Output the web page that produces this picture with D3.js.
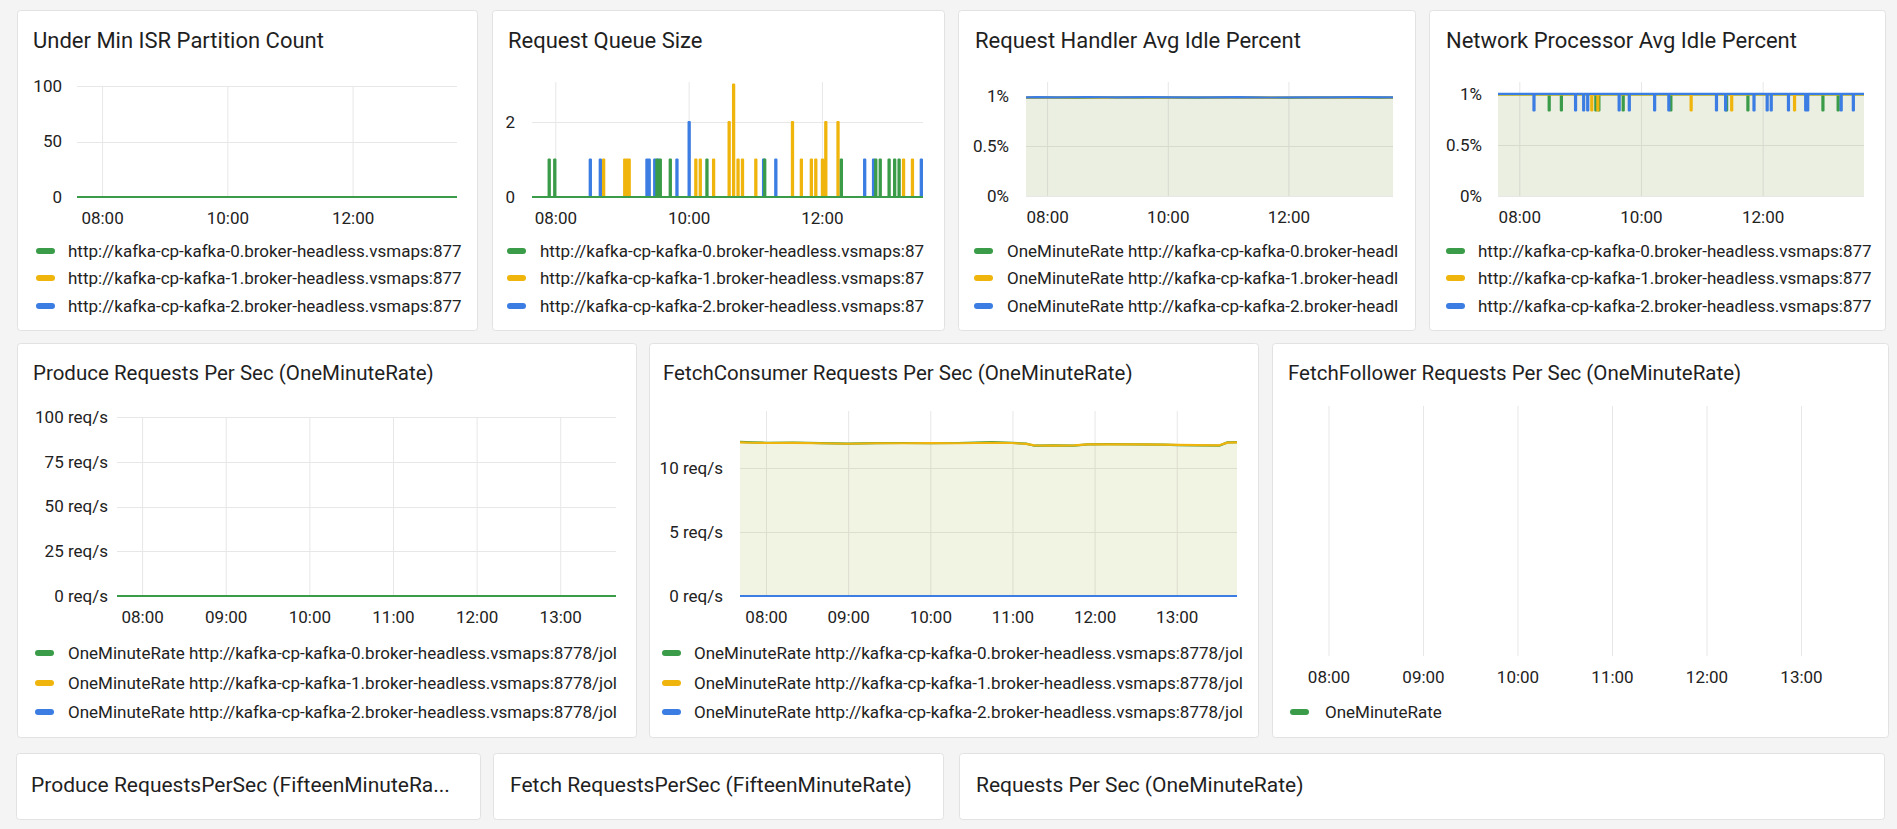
<!DOCTYPE html>
<html>
<head>
<meta charset="utf-8">
<script src="https://cdn.jsdelivr.net/npm/d3@7"></script>
<style>
  body { margin: 0; background: #f4f4f4; overflow: hidden; }
  svg { display: block; font-family: Roboto, "Noto Sans", sans-serif; }
</style>
</head>
<body>
<svg id="dash" width="1897" height="829"></svg>
<script>
// ---- legend labels ----
const brokerUrls = [
  "http://kafka-cp-kafka-0.broker-headless.vsmaps:8778/jolokia",
  "http://kafka-cp-kafka-1.broker-headless.vsmaps:8778/jolokia",
  "http://kafka-cp-kafka-2.broker-headless.vsmaps:8778/jolokia"
];
const rateUrls = brokerUrls.map(u => "OneMinuteRate " + u);
const followerLegend = ["OneMinuteRate"];

// ---- Under Min ISR Partition Count (flat zero) ----
const underMinIsr0 = [["07:36", 0], ["13:40", 0]];
const underMinIsr1 = [["07:36", 0], ["13:40", 0]];
const underMinIsr2 = [["07:36", 0], ["13:40", 0]];

// ---- Request Queue Size: zero except these samples ----
const queueSpikes0 = [["07:54",1],["07:59",1],["09:31",1],["09:34",1],["09:43",1],["10:16",1],["11:08",1],
  ["12:17",1],["12:48",1],["12:52",1],["13:00",1],["13:05",1],["13:09",1]];
const queueSpikes1 = [["08:43",1],["09:02",1],["09:04",1],["09:06",1],["10:06",1],["10:10",1],["10:22",1],
  ["10:36",2],["10:40",3],["10:44",1],["10:48",1],["11:00",1],["11:33",2],["11:41",1],["11:50",1],
  ["11:54",1],["12:00",1],["12:03",2],["12:14",2],["13:13",1],["13:21",1]];
const queueSpikes2 = [["08:31",1],["08:40",1],["09:22",1],["09:24",1],["09:29",1],["09:32",1],["09:49",1],
  ["10:00",2],["11:07",1],["11:18",1],["12:38",1],["12:46",1],["13:29",1]];

// ---- Request Handler Avg Idle Percent ----
const handlerIdle0 = [["07:39",0.982],["08:00",0.984],["08:30",0.982],["09:00",0.985],["09:30",0.983],["10:00",0.984],
  ["10:30",0.982],["11:00",0.985],["11:30",0.983],["12:00",0.982],["12:30",0.984],["13:00",0.983],["13:30",0.982],["13:44",0.984]];
const handlerIdle1 = [["07:39",0.984],["08:00",0.983],["08:30",0.985],["09:00",0.983],["09:30",0.985],["10:00",0.983],
  ["10:30",0.985],["11:00",0.983],["11:30",0.984],["12:00",0.985],["12:30",0.983],["13:00",0.984],["13:30",0.985],["13:44",0.983]];
const handlerIdle2 = [["07:39",0.986],["07:50",0.988],["08:10",0.986],["08:40",0.99],["09:10",0.986],["09:40",0.988],
  ["10:10",0.987],["10:40",0.986],["11:10",0.989],["11:40",0.985],["12:10",0.987],["12:40",0.986],["13:10",0.988],["13:44",0.987]];

// ---- Network Processor Avg Idle Percent: level + short dips ----
const netIdleBase = [0.998, 0.999, 1.003];
const netIdleDips0 = [["08:29",0.84],["08:41",0.84],["09:15",0.84],["09:18",0.84],["09:42",0.84],["10:29",0.84],
  ["11:24",0.84],["11:45",0.84],["12:59",0.84],["13:14",0.84]];
const netIdleDips1 = [["09:11",0.84],["09:17",0.84],["10:49",0.84],["11:29",0.84],["12:31",0.84]];
const netIdleDips2 = [["08:14",0.84],["08:55",0.84],["09:03",0.84],["09:07",0.84],["09:38",0.84],["09:48",0.84],
  ["10:13",0.84],["10:27",0.84],["11:14",0.84],["11:23",0.84],["11:51",0.84],["12:04",0.84],["12:08",0.84],
  ["12:25",0.84],["12:42",0.84],["12:44",0.84],["13:17",0.84],["13:29",0.84]];

// ---- Produce Requests Per Sec (flat zero) ----
const produceRate0 = [["07:42", 0], ["13:40", 0]];
const produceRate1 = [["07:42", 0], ["13:40", 0]];
const produceRate2 = [["07:42", 0], ["13:40", 0]];

// ---- FetchConsumer Requests Per Sec ----
const fetchConsumer0 = [["07:41",12.04],["07:50",12.0],["08:00",11.97],["08:20",11.99],["08:40",11.94],["09:00",11.9],
  ["09:20",11.94],["09:40",11.95],["10:00",11.93],["10:20",11.95],["10:45",12.03],["11:00",11.96],["11:10",11.9],
  ["11:16",11.74],["11:30",11.76],["11:45",11.74],["11:55",11.85],["12:10",11.86],["12:30",11.84],["12:50",11.83],
  ["13:01",11.78],["13:15",11.76],["13:31",11.74],["13:37",12.0],["13:44",12.02]];
const fetchConsumer1 = [["07:41",12.0],["07:50",11.97],["08:00",11.95],["08:20",11.96],["08:40",11.93],["09:00",11.89],
  ["09:20",11.93],["09:40",11.93],["10:00",11.94],["10:20",11.93],["10:45",11.97],["11:00",11.95],["11:10",11.88],
  ["11:16",11.76],["11:30",11.75],["11:45",11.77],["11:55",11.84],["12:10",11.84],["12:30",11.85],["12:50",11.82],
  ["13:01",11.8],["13:15",11.78],["13:31",11.77],["13:37",11.98],["13:44",12.0]];
const fetchConsumer2 = [["07:41", 0], ["13:44", 0]];

const seriesColors = ["#3a9b48", "#efb50c", "#3b7de2"];

const parseT = d3.timeParse("%H:%M");
const fmtT = d3.timeFormat("%H:%M");

function pairs(arr) {
  return arr.map(([t, v]) => ({ t: parseT(t), v }));
}

// level series with one-minute excursions (drawn as steps)
function eventSeries(base, events, from, to) {
  const pts = [{ t: parseT(from), v: base }];
  events.forEach(([tm, v]) => {
    const t = parseT(tm);
    pts.push({ t, v }, { t: d3.timeMinute.offset(t, 1), v: base });
  });
  pts.push({ t: parseT(to), v: base });
  return pts;
}

const panels = [
  { title: "Under Min ISR Partition Count", box: [17, 10, 460, 320], titleX: 16, titleY: 38, titleSize: 22,
    plot: [77, 86, 457, 197], domain: ["07:36", "13:40"], xEvery: 2, yMax: 100, yTicks: [0, 50, 100],
    yFmt: d => d, yPad: 15,
    series: [pairs(underMinIsr0), pairs(underMinIsr1), pairs(underMinIsr2)], order: [2, 1, 0],
    legend: brokerUrls, legX: [19, 51], legY: [241, 268, 296] },
  { title: "Request Queue Size", box: [492, 10, 452, 320], titleX: 16, titleY: 38, titleSize: 22,
    plot: [532, 82, 923, 197], domain: ["07:39", "13:31"], xEvery: 2, yMax: 3.07, yTicks: [0, 2],
    yFmt: d => d, yPad: 17, step: true,
    series: [eventSeries(0, queueSpikes0, "07:39", "13:31"), eventSeries(0, queueSpikes1, "07:39", "13:31"),
             eventSeries(0, queueSpikes2, "07:39", "13:31")], order: [2, 1, 0],
    legend: brokerUrls, legX: [15, 48], legY: [241, 268, 296] },
  { title: "Request Handler Avg Idle Percent", box: [958, 10, 457, 320], titleX: 17, titleY: 38, titleSize: 22,
    plot: [1026, 82, 1393, 196], domain: ["07:39", "13:44"], xEvery: 2, yMax: 1.14, yTicks: [0, 0.5, 1],
    yFmt: d => d + "%", yPad: 17, fill: true,
    series: [pairs(handlerIdle0), pairs(handlerIdle1), pairs(handlerIdle2)], order: [0, 1, 2],
    legend: rateUrls, legX: [16, 49], legY: [241, 268, 296] },
  { title: "Network Processor Avg Idle Percent", box: [1429, 10, 456, 320], titleX: 17, titleY: 38, titleSize: 22,
    plot: [1498, 82, 1864, 196], domain: ["07:39", "13:40"], xEvery: 2, yMax: 1.12, yTicks: [0, 0.5, 1],
    yFmt: d => d + "%", yPad: 16, fill: true, step: true,
    series: [eventSeries(netIdleBase[0], netIdleDips0, "07:39", "13:40"),
             eventSeries(netIdleBase[1], netIdleDips1, "07:39", "13:40"),
             eventSeries(netIdleBase[2], netIdleDips2, "07:39", "13:40")], order: [0, 1, 2],
    legend: brokerUrls, legX: [17, 49], legY: [241, 268, 296] },
  { title: "Produce Requests Per Sec (OneMinuteRate)", box: [17, 343, 619, 394], titleX: 16, titleY: 37, titleSize: 20.5,
    plot: [117, 417, 616, 596], domain: ["07:42", "13:40"], xEvery: 1, yMax: 100, yTicks: [0, 25, 50, 75, 100],
    yFmt: d => d + " req/s", yPad: 9,
    series: [pairs(produceRate0), pairs(produceRate1), pairs(produceRate2)], order: [2, 1, 0],
    legend: rateUrls, legX: [18, 51], legY: [310, 340, 369] },
  { title: "FetchConsumer Requests Per Sec (OneMinuteRate)", box: [649, 343, 609, 394], titleX: 14, titleY: 37, titleSize: 20.5,
    plot: [740, 411, 1237, 596], domain: ["07:41", "13:44"], xEvery: 1, yMax: 14.45, yTicks: [0, 5, 10],
    yFmt: d => d + " req/s", yPad: 17, fill: true,
    series: [pairs(fetchConsumer0), pairs(fetchConsumer1), pairs(fetchConsumer2)], order: [2, 0, 1],
    legend: rateUrls, legX: [13, 45], legY: [310, 340, 369] },
  { title: "FetchFollower Requests Per Sec (OneMinuteRate)", box: [1272, 343, 616, 394], titleX: 16, titleY: 37, titleSize: 20.5,
    plot: [1297, 406, 1864, 656], domain: ["07:40", "13:40"], xEvery: 1, noYAxis: true,
    series: [], order: [],
    legend: followerLegend, legX: [18, 53], legY: [369] },
  { title: "Produce RequestsPerSec (FifteenMinuteRa...", box: [16, 753, 464, 66], titleX: 15, titleY: 39, titleSize: 21 },
  { title: "Fetch RequestsPerSec (FifteenMinuteRate)", box: [493, 753, 450, 66], titleX: 17, titleY: 39, titleSize: 21 },
  { title: "Requests Per Sec (OneMinuteRate)", box: [959, 753, 925, 66], titleX: 17, titleY: 39, titleSize: 21 }
];

const svg = d3.select("#dash");

function drawPanel(p, i) {
  const [bx, by, bw, bh] = p.box;
  const g = svg.append("g").attr("class", "panel");

  g.append("rect")
    .attr("x", bx + 0.5).attr("y", by + 0.5)
    .attr("width", bw).attr("height", bh)
    .attr("rx", 3)
    .attr("fill", "#fff")
    .attr("stroke", "#e2e2e2");

  g.append("text")
    .attr("x", bx + p.titleX).attr("y", by + p.titleY)
    .attr("font-size", p.titleSize)
    .attr("fill", "#1f1f1f")
    .text(p.title);

  if (!p.plot) return;

  const [l, t, r, b] = p.plot;
  const x = d3.scaleTime().domain(p.domain.map(parseT)).range([l, r]);
  const xTicks = x.ticks(d3.timeHour.every(p.xEvery));

  g.append("g").selectAll("line").data(xTicks).join("line")
    .attr("x1", d => x(d) + 0.5).attr("x2", d => x(d) + 0.5)
    .attr("y1", t).attr("y2", b)
    .attr("stroke", "#e7e7e7");

  g.append("g")
    .attr("transform", `translate(0,${b})`)
    .call(d3.axisBottom(x).tickValues(xTicks).tickFormat(fmtT).tickSize(0).tickPadding(15))
    .call(a => a.select(".domain").remove())
    .attr("font-size", 17).attr("font-family", null)
    .style("color", "#222");

  if (!p.noYAxis) {
    const y = d3.scaleLinear().domain([0, p.yMax]).range([b, t]);

    g.append("g").selectAll("line").data(p.yTicks).join("line")
      .attr("x1", l).attr("x2", r)
      .attr("y1", d => Math.round(y(d)) + 0.5).attr("y2", d => Math.round(y(d)) + 0.5)
      .attr("stroke", "#e7e7e7");

    g.append("g")
      .attr("transform", `translate(${l},0)`)
      .call(d3.axisLeft(y).tickValues(p.yTicks).tickFormat(p.yFmt).tickSize(0).tickPadding(p.yPad))
      .call(a => a.select(".domain").remove())
      .attr("font-size", 17).attr("font-family", null)
      .style("color", "#222");

    const clipId = "plotclip" + i;
    g.append("clipPath").attr("id", clipId)
      .append("rect").attr("x", l).attr("y", t - 4).attr("width", r - l).attr("height", b - t + 8);

    const curve = p.step ? d3.curveStepAfter : d3.curveLinear;
    const line = d3.line().x(d => x(d.t)).y(d => y(d.v)).curve(curve);
    const area = d3.area().x(d => x(d.t)).y0(y(0)).y1(d => y(d.v)).curve(curve);
    const marks = g.append("g").attr("clip-path", `url(#${clipId})`);

    if (p.fill) {
      marks.selectAll("path.area").data(p.order).join("path")
        .attr("class", "area")
        .attr("d", k => area(p.series[k]))
        .attr("fill", k => seriesColors[k])
        .attr("fill-opacity", k => k === 2 ? 0.03 : 0.065);
    }

    marks.selectAll("path.line").data(p.order).join("path")
      .attr("class", "line")
      .attr("d", k => line(p.series[k]))
      .attr("fill", "none")
      .attr("stroke", k => seriesColors[k])
      .attr("stroke-width", 2.2)
      .attr("stroke-linejoin", "round");
  }

  // legend; long labels are cut at the panel's inner edge like the dashboard does
  const maxW = bw - 12 - p.legX[1];
  const leg = g.append("g")
    .selectAll("g").data(p.legend).join("g")
    .attr("transform", (d, k) => `translate(${bx},${by + p.legY[k]})`);

  leg.append("rect")
    .attr("x", p.legX[0]).attr("y", -3)
    .attr("width", 19).attr("height", 6).attr("rx", 3)
    .attr("fill", (d, k) => seriesColors[k]);

  leg.append("text")
    .attr("x", p.legX[1]).attr("dy", "0.35em")
    .attr("font-size", 17)
    .attr("fill", "#222")
    .text(d => d)
    .each(function () {
      let s = this.textContent;
      while (s.length && this.getComputedTextLength() > maxW) {
        s = s.slice(0, -1);
        this.textContent = s;
      }
    });
}

panels.forEach(drawPanel);
</script>
</body>
</html>
